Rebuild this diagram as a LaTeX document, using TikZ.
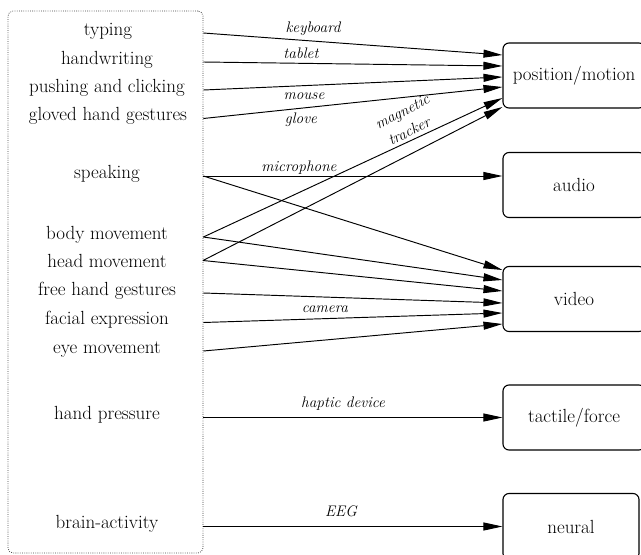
\documentclass[tikz,border=0pt]{standalone}
\usetikzlibrary{arrows.meta,positioning,calc}

\begin{document}
\begin{tikzpicture}[x=1pt,y=-1pt,
    act/.style={font=\fontsize{19}{23}\selectfont, inner sep=0pt, text height=0.7em, text depth=0.22em},
    chan/.style={draw, line width=1.1pt, rounded corners=6pt, minimum width=142pt, minimum height=65pt, inner sep=0pt, font=\fontsize{19}{23}\selectfont},
    dev/.style={font=\fontsize{15.3}{18}\selectfont\itshape, inner sep=0pt},
    feed/.style={line width=0.95pt, -{Triangle[length=19pt,width=8pt]}},
    srcframe/.style={draw=black!75, line width=0.75pt, dash pattern=on 0.8pt off 1.4pt, rounded corners=5pt}]

    \useasboundingbox (0,0) rectangle (641,555);
    \clip (0,0) rectangle (641,555);

    % human actions
    \node[srcframe, minimum width=195pt, minimum height=542pt] (src) at (105.5,282) {};
    \node[act] (typing) at (108,33) {typing};
    \node[act] (hwrite) at (107,62) {handwriting};
    \node[act] (push) at (107,90) {pushing and clicking};
    \node[act] (gloved) at (108,118.5) {gloved hand gestures};
    \node[act] (speak) at (107,176) {speaking};
    \node[act] (body) at (107,237) {body movement};
    \node[act] (head) at (107,265) {head movement};
    \node[act] (free) at (107,293) {free hand gestures};
    \node[act] (face) at (107,322.5) {facial expression};
    \node[act] (eye) at (107,351) {eye movement};
    \node[act] (press) at (107,417.5) {hand pressure};
    \node[act] (brain) at (107,526.5) {brain-activity};
    \coordinate (head-o) at (203,260.5);

    % channels
    \node[chan] (pos) at (574,75.5) {position/motion};
    \node[chan] (audio) at (574,185) {audio};
    \node[chan] (video) at (574,299) {video};
    \node[chan] (tactile) at (574,417.5) {tactile/force};
    \node[chan, minimum width=136pt, minimum height=66pt] (neural) at (571,526.5) {neural};

    % devices
    \draw[feed] (typing -| src.east) -- ([yshift=20.5pt]pos.west);
    \draw[feed] (hwrite -| src.east) -- ([yshift=9.5pt]pos.west);
    \draw[feed] (push -| src.east) -- ([yshift=-1.5pt]pos.west);
    \draw[feed] (gloved -| src.east) -- ([yshift=-11.5pt]pos.west);
    \draw[feed] (body -| src.east) -- ([yshift=-22.5pt]pos.west);
    \draw[feed] (head-o) -- ([yshift=-31.5pt]pos.west);

    \draw[feed] (speak -| src.east) -- (speak -| audio.west);

    \draw[feed] (speak -| src.east) -- ([yshift=29pt]video.west);
    \draw[feed] (body -| src.east) -- ([yshift=19pt]video.west);
    \draw[feed] (head-o) -- ([yshift=8pt]video.west);
    \draw[feed] (free -| src.east) -- ([yshift=-4pt]video.west);
    \draw[feed] (face -| src.east) -- ([yshift=-14pt]video.west);
    \draw[feed] (eye -| src.east) -- ([yshift=-25pt]video.west);

    \draw[feed] (press -| src.east) -- (tactile.west);
    \draw[feed] (brain -| src.east) -- (neural.west);

    \node[dev] (kbd) at (313,29) {keyboard};
    \node[dev] (tab) at (301,53) {tablet};
    \node[dev] (mouse) at (304,96) {mouse};
    \node[dev] (glv) at (301,120) {glove};
    \node[dev] (mic) at (299,168) {microphone};
    \node[dev, rotate=27] (mag) at (403,113) {magnetic};
    \node[dev, rotate=27] (trk) at (409,131) {tracker};
    \node[dev] (cam) at (325,309) {camera};
    \node[dev] (hap) at (343,404) {haptic device};
    \node[dev] (eeg) at (341,511) {EEG};
\end{tikzpicture}
\end{document}
